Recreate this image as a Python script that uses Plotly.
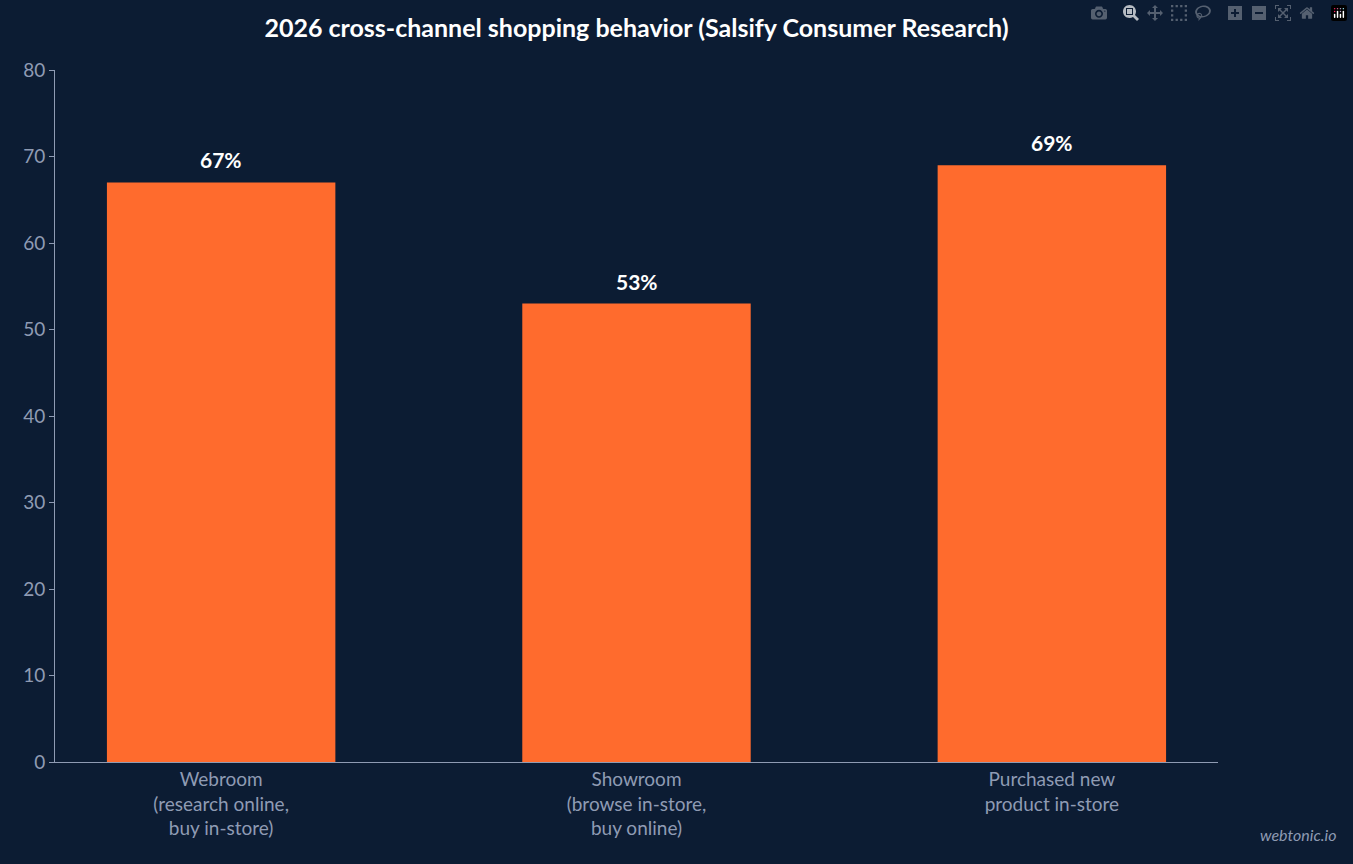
import plotly.graph_objects as go

categories = ["Webroom<br>(research online,<br>buy in-store)", "Showroom<br>(browse in-store,<br>buy online)", "Purchased new<br>product in-store"]
values = [67, 53, 69]
labels = ["67%", "53%", "69%"]

bg = "#0c1c33"
xs = list(range(len(categories)))
fig = go.Figure(go.Bar(
    x=xs, y=values, marker=dict(color="#ff6b2d", line=dict(width=0)),
    width=0.55))
for x, v, t in zip(xs, values, labels):
    fig.add_annotation(x=x, y=v, text="<b>%s</b>" % t, showarrow=False, yanchor="bottom", yshift=8,
                       font=dict(color="white", size=21, family="Lato"))
fig.update_layout(
    width=1353, height=864, paper_bgcolor=bg, plot_bgcolor=bg,
    margin=dict(l=55, r=135, t=70, b=102),
    font=dict(family="Lato", color="#8f9bb3", size=19),
    title=dict(text="<b>2026 cross-channel shopping behavior (Salsify Consumer Research)</b>",
               x=0.5, xref="paper", y=0.967, yanchor="middle", font=dict(color="white", size=25, family="Lato")),
    xaxis=dict(range=[-0.4, 2.4], tickvals=xs, ticktext=categories,
               showgrid=False, showline=True, linecolor="#8f9bb3", ticks="", zeroline=False),
    yaxis=dict(range=[0, 80], dtick=10, showgrid=False, showline=True, linecolor="#8f9bb3",
               ticks="outside", tickcolor="#8f9bb3", ticklen=5, zeroline=False),
    showlegend=False,
)
fig.add_annotation(text="<i>webtonic.io</i>", xref="paper", yref="paper", x=1.103, y=-0.105,
                   xanchor="right", yanchor="middle", showarrow=False,
                   font=dict(size=16, color="#8f9bb3", family="Lato"))
fig.write_html("out.html", post_script="document.body.style.margin='0';document.body.style.background='%s';" % bg)
